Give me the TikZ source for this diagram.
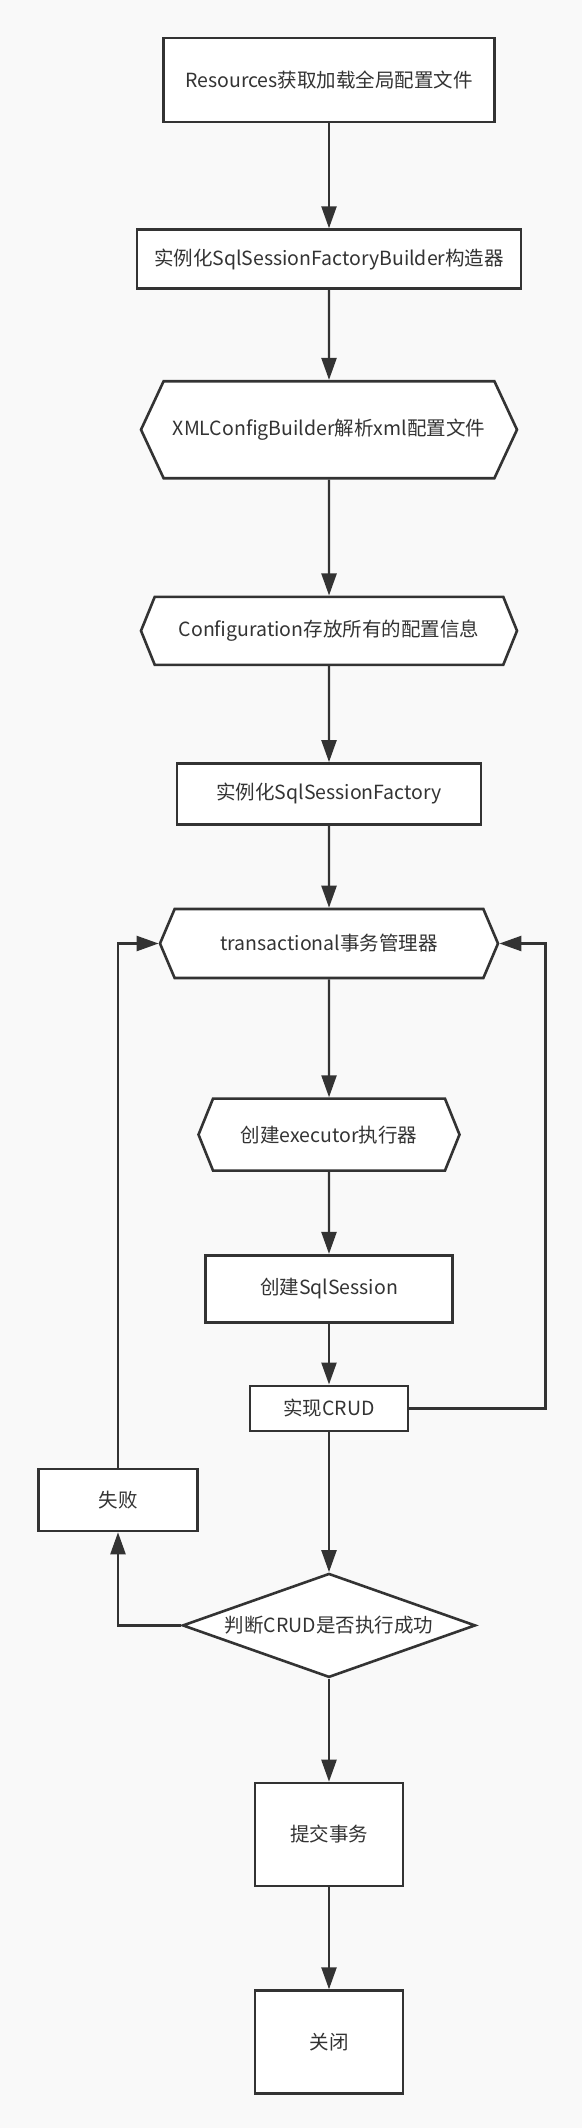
\documentclass[tikz,border=0pt]{standalone}
\usepackage{fontspec}
\setmainfont{Noto Sans CJK SC}
\usepackage{xcolor}
\usepackage{tikz}
\usetikzlibrary{
  arrows.meta,
  positioning,
  shapes.geometric,
  shapes.symbols
}
\definecolor{inkgray}{HTML}{333333}
\definecolor{pagegray}{HTML}{F9F9F9}

\begin{document}
\begin{tikzpicture}[
  x=1pt, y=1pt,
  font=\fontsize{19.5}{23}\selectfont,
  every node/.style={draw=inkgray, line width=2.6pt, fill=white, text=inkgray, inner sep=0pt},
  procbox/.style 2 args={rectangle, minimum width=#1, minimum height=#2},
  hexbox/.style n args={3}{
    signal, signal to=west and east, signal pointer angle=#3,
    minimum width=#1, minimum height=#2
  },
  checkbox/.style={diamond, aspect=2.85, minimum width=293pt, minimum height=104pt},
  flow/.style={draw=inkgray, line width=2.4pt, -{Triangle[length=22pt,width=15pt]}}
]
\fill[pagegray] (0,0) rectangle (582,-2128);
\useasboundingbox (0,0) rectangle (582,-2128);

% main column
\node[procbox={331pt}{84pt}] (resources-loader) at (329,-80) {Resources获取加载全局配置文件};
\node[procbox={384pt}{59pt}, below=105pt of resources-loader] (factory-builder) {实例化SqlSessionFactoryBuilder构造器};
\node[hexbox={376pt}{97pt}{130}, below=90pt of factory-builder] (xml-parser) {XMLConfigBuilder解析xml配置文件};
\node[hexbox={376pt}{68pt}{136}, below=116pt of xml-parser] (configuration) {Configuration存放所有的配置信息};
\node[procbox={304pt}{61pt}, below=96pt of configuration] (session-factory) {实例化SqlSessionFactory};
\node[hexbox={338pt}{69pt}{134}, below=82pt of session-factory] (transaction-manager) {transactional事务管理器};
\node[hexbox={261pt}{72pt}{136}, below=118pt of transaction-manager] (executor) {创建executor执行器};
\node[procbox={247pt}{67pt}, below=82pt of executor] (sql-session) {创建SqlSession};
\node[procbox={158pt}{45pt}, below=61pt of sql-session] (crud) {实现CRUD};
\node[checkbox, below=140pt of crud] (check-result) {判断CRUD是否执行成功};
\node[procbox={148pt}{103pt}, below=103pt of check-result] (commit) {提交事务};
\node[procbox={148pt}{103pt}, below=102pt of commit] (close) {关闭};
\node[procbox={159pt}{62pt}] (fail-box) at (118,-1500) {失败};

\draw[flow] (resources-loader) -- (factory-builder);
\draw[flow] (factory-builder) -- (xml-parser);
\draw[flow] (xml-parser) -- (configuration);
\draw[flow] (configuration) -- (session-factory);
\draw[flow] (session-factory) -- (transaction-manager);
\draw[flow] (transaction-manager) -- (executor);
\draw[flow] (executor) -- (sql-session);
\draw[flow] (sql-session) -- (crud);
\draw[flow] (crud) -- (check-result);
\draw[flow] (check-result) -- (commit);
\draw[flow] (commit) -- (close);

% loops back to the transaction manager
\draw[flow] (crud.east) -| ([xshift=46pt]transaction-manager.east) -- (transaction-manager.east);
\draw[flow] (check-result.west) -| (fail-box.south);
\draw[flow] (fail-box.north) |- (transaction-manager.west);
\end{tikzpicture}
\end{document}
